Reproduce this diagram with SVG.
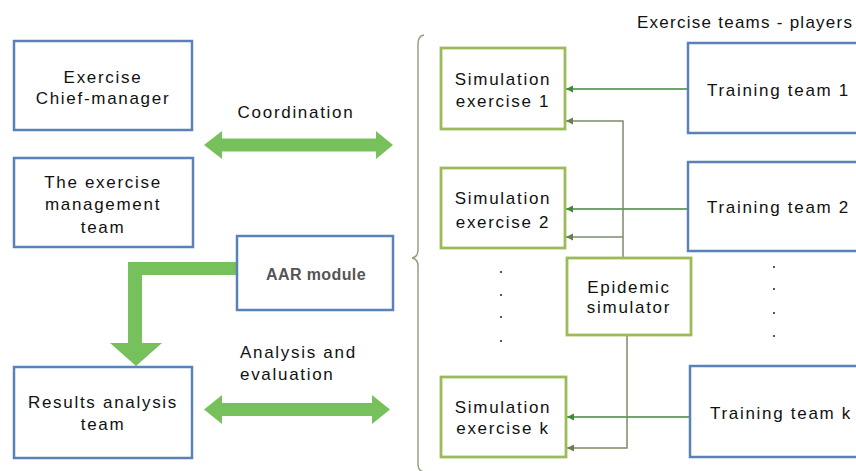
<svg xmlns="http://www.w3.org/2000/svg" width="856" height="471" viewBox="0 0 856 471">
<defs>
<style>
.t{font-family:"Liberation Sans",Arial,sans-serif;font-size:17px;fill:#111;letter-spacing:1.7px}
.m{text-anchor:middle}
.blue{fill:#fff;stroke:#5a82b8;stroke-width:2.5}
.grn{fill:#fff;stroke:#9bbb59;stroke-width:2.8}
.big{fill:#77c15d}
.tl{fill:none;stroke:#3f8a38;stroke-width:1.6}
.el{fill:none;stroke:#7b8c63;stroke-width:1.5}
.dot{fill:#222}
</style>
<marker id="ah1" markerWidth="8" markerHeight="8" refX="7" refY="4" orient="auto" markerUnits="userSpaceOnUse">
<path d="M0,0.5 L7,4 L0,7.5 Z" fill="#3f8a38"/>
</marker>
<marker id="ah2" markerWidth="8" markerHeight="8" refX="7" refY="4" orient="auto" markerUnits="userSpaceOnUse">
<path d="M0,0.5 L7,4 L0,7.5 Z" fill="#6b7d50"/>
</marker>
</defs>
<rect width="856" height="471" fill="#fff"/>

<g id="connectors">
<polygon class="big" points="204,145 222,131 222,138.5 376,138.5 376,131 393,145 376,159 376,151.5 222,151.5 222,159"/>
<polygon class="big" points="204,409.5 222,395 222,403 372,403 372,395 390,409.5 372,424 372,416 222,416 222,424"/>
<polygon class="big" points="237,262 128,262 128,343 110,343 136,366 162,343 142,343 142,275 237,275"/>
<path d="M424,35 Q418,36 418,44 L418,250 Q418,257 412,258 Q418,259 418,266 L418,464 Q418,471 424,472" fill="none" stroke="#8c9c78" stroke-width="1.4"/>
<line class="tl" x1="688" y1="89" x2="566" y2="89" marker-end="url(#ah1)"/>
<line class="tl" x1="688" y1="209" x2="566" y2="209" marker-end="url(#ah1)"/>
<line class="tl" x1="690" y1="417" x2="567" y2="417" marker-end="url(#ah1)"/>
<path class="el" d="M623,258 L623,121 L566,121" marker-end="url(#ah2)"/>
<path class="el" d="M623,237 L566,237" marker-end="url(#ah2)"/>
<path class="el" d="M627,335 L627,448 L567,448" marker-end="url(#ah2)"/>
</g>

<g id="chief">
<rect class="blue" x="14" y="41" width="178" height="89"/>
<text class="t m" x="103" y="83">Exercise</text>
<text class="t m" x="103" y="104">Chief-manager</text>
</g>
<g id="mgmt">
<rect class="blue" x="14" y="158" width="179" height="89"/>
<text class="t m" x="103" y="188">The exercise</text>
<text class="t m" x="103" y="210">management</text>
<text class="t m" x="103" y="233">team</text>
</g>
<g id="results">
<rect class="blue" x="14" y="367" width="178" height="91"/>
<text class="t m" x="103" y="408">Results analysis</text>
<text class="t m" x="103" y="430">team</text>
</g>
<g id="aar">
<rect class="blue" x="237" y="236" width="156" height="74"/>
<text x="316" y="280" text-anchor="middle" font-family="'Liberation Sans',Arial,sans-serif" font-size="16" font-weight="bold" fill="#555" letter-spacing="0.4">AAR module</text>
</g>
<g id="labels">
<text class="t m" x="296" y="118">Coordination</text>
<text class="t" x="240" y="358">Analysis and</text>
<text class="t" x="240" y="380">evaluation</text>
<text class="t" x="637" y="28" style="letter-spacing:0" textLength="215" lengthAdjust="spacing">Exercise teams - players</text>
</g>
<g id="sim1">
<rect class="grn" x="441" y="48" width="124" height="81"/>
<text class="t m" x="503" y="85">Simulation</text>
<text class="t m" x="503" y="107">exercise 1</text>
</g>
<g id="sim2">
<rect class="grn" x="441" y="168" width="124" height="80"/>
<text class="t m" x="503" y="204">Simulation</text>
<text class="t m" x="503" y="228">exercise 2</text>
</g>
<g id="simk">
<rect class="grn" x="441" y="377" width="125" height="80"/>
<text class="t m" x="503" y="413">Simulation</text>
<text class="t m" x="503" y="434">exercise k</text>
</g>
<g id="epidemic">
<rect class="grn" x="567" y="258" width="124" height="77"/>
<text class="t m" x="629" y="293">Epidemic</text>
<text class="t m" x="629" y="313">simulator</text>
</g>
<g id="team1">
<rect class="blue" x="688" y="43" width="180" height="90"/>
<text class="t" x="707" y="96">Training team 1</text>
</g>
<g id="team2">
<rect class="blue" x="688" y="162" width="180" height="89"/>
<text class="t" x="707" y="213">Training team 2</text>
</g>
<g id="teamk">
<rect class="blue" x="690" y="366" width="180" height="91"/>
<text class="t" x="710" y="419">Training team k</text>
</g>
<g id="dots">
<circle class="dot" cx="501" cy="272" r="1"/>
<circle class="dot" cx="501" cy="295" r="1"/>
<circle class="dot" cx="501" cy="317" r="1"/>
<circle class="dot" cx="501" cy="341" r="1"/>
<circle class="dot" cx="774" cy="267" r="1"/>
<circle class="dot" cx="774" cy="289" r="1"/>
<circle class="dot" cx="774" cy="313" r="1"/>
<circle class="dot" cx="774" cy="336" r="1"/>
</g>
</svg>
